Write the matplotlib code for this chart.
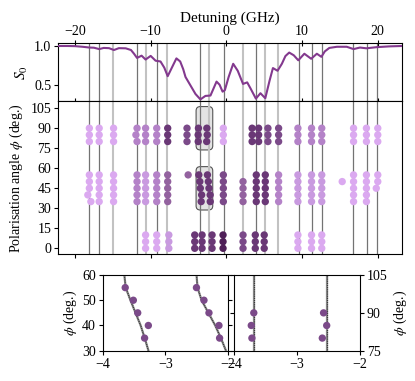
import numpy as np
import matplotlib
matplotlib.use('Agg')
import matplotlib.pyplot as plt
from matplotlib.patches import FancyBboxPatch

plt.rcParams['font.family'] = ['Liberation Serif', 'DejaVu Serif']
plt.rcParams['mathtext.fontset'] = 'stix'
plt.rcParams['font.size'] = 10
plt.rcParams['axes.linewidth'] = 0.8

# ---------------- data ----------------
s0_detuning = [-22.2, -21.0, -20.0, -19.0, -18.1, -17.5, -16.8, -16.2, -15.5, -14.85,
               -14.2, -13.3, -12.6, -12.2, -11.8, -11.2, -10.67, -10.0, -9.35, -8.7,
               -8.2, -7.75, -7.2, -6.6, -6.1, -5.7, -5.4, -4.74, -4.08, -3.43,
               -2.77, -2.1, -1.7, -1.3, -0.9, -0.5, -0.2, 0.3, 0.9, 1.5,
               2.2, 2.75, 3.2, 3.9, 4.5, 5.14, 5.7, 6.15, 6.76, 7.33,
               7.8, 8.3, 8.9, 9.5, 10.3, 11.2, 11.95, 12.55, 13.0, 13.6,
               14.6, 15.9, 16.8, 17.65, 18.5, 19.85, 21.5, 23.2]
s0_values = [1.0, 1.0, 0.998, 0.99, 0.98, 0.978, 0.96, 0.975, 0.972, 0.948,
             0.972, 0.97, 0.948, 0.90, 0.846, 0.875, 0.825, 0.872, 0.81, 0.80,
             0.72, 0.61, 0.72, 0.84, 0.80, 0.70, 0.60, 0.49, 0.38, 0.31,
             0.355, 0.36, 0.45, 0.54, 0.50, 0.41, 0.43, 0.60, 0.77, 0.68,
             0.51, 0.53, 0.45, 0.32, 0.39, 0.325, 0.55, 0.715, 0.68, 0.77,
             0.87, 0.915, 0.88, 0.815, 0.90, 0.835, 0.90, 0.86, 0.93, 0.975,
             0.99, 0.99, 0.96, 0.98, 0.97, 0.985, 0.995, 1.0]

dark_lines = [-18.14, -16.82, -11.77, -9.13, -3.43, -0.36, 3.86, 9.53, 11.29, 12.61,
              16.69, 18.54, 19.85]
light_lines = [-14.93, -10.67, -7.81, -2.24, 2.2, 5.14, 6.81]

palette = ['#dba9f0', '#c99ae0', '#b482c8', '#93629f', '#7b4a89', '#6a3876', '#4f1f58']

A90 = [90, 85, 80]
A55 = [55, 50, 45, 40, 35]
A10 = [10, 5, 0]

# inset data
box_hi_angles = [90, 85, 80]
box_hi_left = [-3.69, -3.73, -3.72]
box_hi_right = [-2.58, -2.53, -2.60]
box_lo_angles = [55, 50, 45, 40, 35]
box_lo_left = [-3.64, -3.51, -3.44, -3.27, -3.33]
box_lo_right = [-2.50, -2.38, -2.30, -2.14, -2.13]

fit_angles = [60, 55, 50, 45, 40, 35, 30]
fit_left = [-3.654, -3.632, -3.556, -3.475, -3.393, -3.328, -3.268]
fit_right = [-2.499, -2.483, -2.418, -2.309, -2.20, -2.109, -2.028]
fit_hi_left = -3.69
fit_hi_right = -2.53

# groups of dots: (detuning(s), angles, colour level)
groups = [
    (-18.1, A90, 0), ([-18.1, -18.1, -18.1, -18.3, -17.9], A55, 0),
    (-16.8, A90, 0), (-16.8, A55, 0),
    (-14.9, A90, 0), (-14.9, A55, 0),
    ([-11.8, -11.95, -11.8], A90, 2), (-11.8, A55, 2),
    (-10.67, A90, 2), (-10.67, A55, 1), (-10.67, A10, 0),
    (-9.2, A90, 2), (-9.2, A55, 2), (-9.2, A10, 0),
    (-7.75, A90, 5), (-7.75, A55, 3), (-7.6, A10, 1),
    (-5.2, A90, 4), (-5.05, [55], 3),
    (box_hi_left, box_hi_angles, 5), (box_hi_right, box_hi_angles, 5),
    (box_lo_left, box_lo_angles, 5), (box_lo_right, box_lo_angles, 5),
    (-4.18, A10, 5), (-3.21, A10, 5), (-1.89, A10, 5), (-0.44, A10, 6),
    (-0.4, A90, 0), (-0.4, A55, 4),
    (2.2, [50, 45, 40, 35], 3), (2.2, A10, 4),
    (3.4, A90, 5), (4.26, A90, 5),
    (3.95, A55, 5), (3.82, A10, 5),
    (5.14, A55, 5), (5.0, A10, 5),
    (5.49, A90, 4),
    (6.9, A90, 4), (6.9, A55, 2),
    (9.45, A90, 2), (9.45, A55, 1), (9.45, A10, 0),
    (11.25, A90, 2), (11.25, A55, 1), (11.25, A10, 0),
    (12.6, A90, 2), (12.6, A55, 1), (12.6, A10, 0),
    (15.3, [50], 0),
    (16.8, A90, 0), (16.8, A55, 0),
    (18.5, A90, 0), (18.5, A55, 0),
    (20.0, A90, 0), ([20.0, 20.0, 19.8], [55, 50, 45], 0),
]

# ---------------- figure ----------------
fig = plt.figure(figsize=(4.15, 3.81), dpi=100)
ax_top = fig.add_axes([0.1405, 0.7336, 0.8282, 0.1528])
ax_mid = fig.add_axes([0.1405, 0.3325, 0.8282, 0.4011], sharex=ax_top)
ax_l = fig.add_axes([0.2475, 0.0795, 0.3012, 0.1987])
ax_r = fig.add_axes([0.5646, 0.0795, 0.3029, 0.1987])

xlim = (-22.2, 23.2)
for ax in (ax_top, ax_mid):
    for x in dark_lines:
        ax.axvline(x, color='#737373', lw=0.9, zorder=1.5)
    for x in light_lines:
        ax.axvline(x, color='#c2c2c2', lw=1.5, zorder=1.5)

# top panel
ax_top.plot(s0_detuning, s0_values, color='#83398e', lw=1.5, zorder=3)
ax_top.set_xlim(*xlim)
ax_top.set_ylim(0.283, 1.035)
ax_top.set_yticks([0.5, 1.0])
ax_top.set_yticklabels(['0.5', '1.0'])
ax_top.set_ylabel('$S_0$', labelpad=3, fontsize=11)
ax_top.xaxis.set_ticks_position('both')
ax_top.xaxis.set_label_position('top')
ax_top.tick_params(axis='x', top=True, labeltop=True, bottom=True, labelbottom=False,
                   direction='inout', length=5, pad=1.5)
ax_top.tick_params(axis='y', length=3, pad=2)
ax_top.set_xticks([-20, -10, 0, 10, 20])
ax_top.set_xticklabels(['\u221220', '\u221210', '0', '10', '20'])
ax_top.set_xlabel('Detuning (GHz)', labelpad=2, fontsize=11)

# middle panel
ax_mid.set_ylim(-4.5, 110)
ax_mid.set_yticks([0, 15, 30, 45, 60, 75, 90, 105])
ax_mid.tick_params(axis='y', length=3, pad=2)
ax_mid.tick_params(axis='x', labelbottom=False, length=3)
ax_mid.set_ylabel('Polarisation angle $\\phi$ (deg.)', labelpad=4)

aspect = (1 / 1.333) / (1 / 7.59)
for (x0, x1, y0, y1) in [(-4.0, -1.8, 73.7, 106.2), (-4.0, -1.8, 28.7, 61.2)]:
    box = FancyBboxPatch((x0, y0), x1 - x0, y1 - y0,
                         boxstyle='round,pad=0,rounding_size=0.55',
                         mutation_aspect=aspect, facecolor='#e3e3e3',
                         edgecolor='#555555', lw=0.8, zorder=1.2)
    ax_mid.add_patch(box)

for det, angs, lvl in groups:
    xs = det if isinstance(det, list) else [det] * len(angs)
    ax_mid.scatter(xs, angs, s=28, color=palette[lvl], edgecolors='none', zorder=3)

# left inset
for xs in (fit_left, fit_right):
    ax_l.plot(xs, fit_angles, color='#8a8a8a', lw=1.6, zorder=2)
    ax_l.plot(xs, fit_angles, color='#222222', lw=0.9, ls=(0, (0.6, 0.9)), zorder=2.5)
ax_l.scatter(box_lo_left + box_lo_right, box_lo_angles + box_lo_angles, s=28,
             color='#7b4a89', edgecolors='none', zorder=3)
ax_l.set_xlim(-4, -2)
ax_l.set_ylim(30, 60)
ax_l.set_xticks([-4, -3, -2])
ax_l.set_xticklabels(['\u22124', '\u22123', '\u22122'])
ax_l.set_yticks([30, 40, 50, 60])
ax_l.tick_params(length=3, pad=2)
ax_l.tick_params(axis='y', right=True)
ax_l.set_ylabel('$\\phi$ (deg.)', labelpad=2)

# right inset
for xv in (fit_hi_left, fit_hi_right):
    ax_r.axvline(xv, color='#8a8a8a', lw=1.6, zorder=2)
    ax_r.axvline(xv, color='#222222', lw=0.9, ls=(0, (0.6, 0.9)), zorder=2.5)
ax_r.scatter(box_hi_left + box_hi_right, box_hi_angles + box_hi_angles, s=28,
             color='#7b4a89', edgecolors='none', zorder=3)
ax_r.set_xlim(-4, -2)
ax_r.set_ylim(75, 105)
ax_r.set_xticks([-4, -3, -2])
ax_r.set_xticklabels(['\u22124', '\u22123', '\u22122'])
ax_r.set_yticks([75, 90, 105])
ax_r.yaxis.set_label_position('right')
ax_r.yaxis.tick_right()
ax_r.tick_params(axis='y', left=True)
ax_r.tick_params(length=3, pad=2)
ax_r.set_ylabel('$\\phi$ (deg.)', labelpad=3)

fig.savefig('out.png', dpi=100)
